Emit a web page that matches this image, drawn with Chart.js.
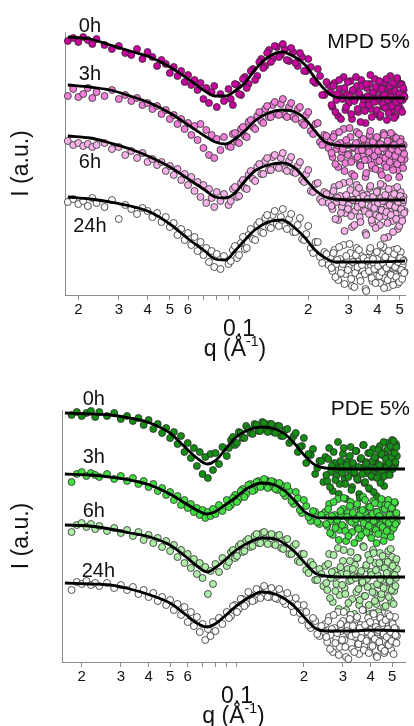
<!DOCTYPE html>
<html>
<head>
<meta charset="utf-8">
<script src="https://cdn.jsdelivr.net/npm/chart.js@4.4.0/dist/chart.umd.min.js"></script>
<style>
  html, body { margin: 0; padding: 0; background: #fff; }
  canvas { display: block; }
</style>
</head>
<body>
<canvas id="mpdChart" width="414" height="363"></canvas>
<canvas id="pdeChart" width="414" height="363"></canvas>
<script>
// scattering vector q (1/A), shared by every measured curve
const q = [0.018,0.019,0.020,0.021,0.022,0.023,0.024,0.026,0.028,0.030,0.032,0.034,0.036,0.038,0.040,0.042,0.044,0.046,0.048,0.050,
  0.052,0.054,0.056,0.058,0.060,0.062,0.064,0.066,0.068,0.070,0.072,0.074,0.076,0.078,0.080,0.083,0.086,0.090,0.094,0.098,
  0.102,0.106,0.110,0.115,0.120,0.125,0.130,0.135,0.140,0.146,0.152,0.158,0.165,0.172,0.180,0.188,0.196,0.205,0.215,0.225,
  0.235,0.245,
  0.250,0.255,0.260,0.265,0.270,0.275,0.280,0.285,0.290,0.295,0.300,0.305,0.310,0.315,0.320,0.325,0.330,0.335,0.340,0.345,
  0.350,0.355,0.360,0.365,0.370,0.375,0.380,0.385,0.390,0.395,0.400,0.405,0.410,0.415,0.420,0.425,0.430,0.435,0.440,0.445,
  0.450,0.455,0.460,0.465,0.470,0.475,0.480,0.485,0.490,0.495,0.500,0.505,0.510,0.515,0.520,0.525];
// second, interleaved set of q where the data are dense
const q2 = [0.092,0.096,0.100,0.104,0.108,0.1125,0.1175,0.1225,0.1275,0.1325,0.1375,0.143,0.149,0.155,0.1615,0.1685,0.176,0.184,0.192,0.200,
  0.210,0.220,0.230,0.240,
  0.2525,0.2575,0.2625,0.2675,0.2725,0.2775,0.2825,0.2875,0.2925,0.2975,0.3025,0.3075,0.3125,0.3175,0.3225,0.3275,0.3325,0.3375,0.3425,0.3475,
  0.3525,0.3575,0.3625,0.3675,0.3725,0.3775,0.3825,0.3875,0.3925,0.3975,0.4025,0.4075,0.4125,0.4175,0.4225,0.4275,0.4325,0.4375,0.4425,0.4475,
  0.4525,0.4575,0.4625,0.4675,0.4725,0.4775,0.4825,0.4875,0.4925,0.4975,0.5025,0.5075,0.5125,0.5175,0.5225];

// MPD 5% - intensity (offset, a.u.)
const mpd0h = [254,257,253,258,255,251,256,250,246,249,242,240,246,236,243,238,229,235,231,222,
  228,219,224,213,220,210,215,205,212,196,207,192,203,209,188,201,194,206,190,210,
  200,218,211,226,219,236,229,245,236,248,240,246,234,243,229,238,224,228,212,219,200,210,
  203,188,212,195,179,206,199,218,185,201,192,214,176,204,196,209,183,200,215,190,
  197,172,207,193,211,186,202,198,216,181,205,194,178,210,199,188,213,201,175,207,
  192,219,184,203,196,208,179,199,214,190,201,186,211,195,205,198];
const mpd0hB = [196,211,201,216,207,224,215,233,227,242,233,249,238,251,235,247,232,242,224,236,214,226,200,213,
  190,209,183,201,215,176,196,207,188,213,199,181,205,194,218,186,202,173,209,196,
  184,211,199,190,220,178,203,193,208,185,197,214,180,206,191,200,187,216,195,182,
  209,198,189,212,177,204,193,217,186,201,196,210,183,207,199];
const mpd3h = [199,206,198,201,207,197,203,199,205,196,200,194,197,190,192,186,189,181,185,176,
  180,171,176,166,172,160,169,155,171,147,165,140,160,137,156,145,158,149,161,153,
  166,159,173,168,179,174,186,178,190,181,191,180,188,178,186,172,180,164,171,153,160,147,
  155,138,161,146,128,152,143,166,132,150,141,158,121,147,136,163,144,130,155,139,
  149,118,153,135,160,142,127,151,145,133,157,140,124,148,137,162,131,150,143,117,
  154,138,146,129,159,141,134,152,125,147,139,156,132,144,150,136];
const mpd3hB = [148,162,152,168,158,175,166,183,172,189,178,193,180,196,178,192,176,188,170,183,161,172,150,159,
  142,158,131,150,163,137,146,124,155,140,167,133,148,119,152,138,161,129,145,156,
  135,122,149,143,164,130,153,139,126,158,144,134,151,120,147,160,137,128,154,141,
  133,162,146,125,150,139,157,131,144,118,153,136,148,127,141];
const mpd6h = [154,150,152,149,151,148,150,152,146,148,140,144,137,142,133,136,130,133,124,129,
  120,126,115,121,110,118,104,113,98,110,92,106,97,88,103,94,101,90,106,98,
  112,107,120,116,128,121,134,125,138,128,137,126,134,123,129,115,121,104,111,96,103,92,
  101,86,108,93,75,99,88,112,82,97,90,105,68,95,84,110,91,78,102,87,
  96,62,100,83,107,89,72,98,92,80,104,86,70,97,85,109,79,94,88,58,
  101,83,93,74,106,89,81,99,66,95,87,103,77,92,98,84];
const mpd6hB = [94,108,99,115,106,124,114,131,121,137,125,140,127,142,124,138,122,133,113,125,103,112,93,101,
  89,104,76,97,110,82,93,64,100,86,113,79,95,70,102,88,107,73,91,99,
  84,60,96,81,109,75,98,87,67,103,92,78,111,85,94,57,100,83,72,106,
  90,80,97,63,101,88,76,108,93,69,99,86,74,95,82];
const mpd24h = [93,96,91,94,89,97,92,88,95,76,90,86,81,87,84,78,82,73,78,68,
  72,60,66,55,62,50,58,44,53,40,47,33,44,28,41,26,39,31,45,37,
  52,46,60,56,70,63,77,68,80,71,78,69,76,63,70,56,61,47,53,38,43,30,
  38,24,45,31,15,36,27,50,21,34,28,42,9,33,22,47,30,18,39,25,
  35,6,37,23,44,29,14,32,40,19,36,26,12,41,24,48,17,31,27,8,
  38,21,34,16,45,28,20,37,11,33,26,43,19,30,35,23];
const mpd24hB = [34,49,40,58,47,66,55,73,62,80,67,84,69,86,66,81,63,77,55,69,42,53,32,41,
  27,42,18,35,48,22,31,11,39,25,51,16,33,8,40,28,45,14,30,37,
  21,4,34,24,47,17,36,26,12,43,29,19,50,23,32,7,38,27,15,44,
  31,20,36,10,41,28,18,46,33,13,37,25,16,34,22];

// PDE 5% - intensity (offset, a.u.)
const pde0h = [247,250,246,249,251,245,250,246,249,243,246,241,244,237,242,233,238,229,234,224,
  230,218,226,210,219,204,214,196,210,188,205,184,208,192,209,198,215,206,222,217,
  230,224,236,229,238,231,240,233,238,230,236,226,232,219,226,210,216,199,207,188,201,180,
  205,181,214,190,171,199,186,220,178,196,208,184,163,201,192,215,175,197,188,211,
  182,168,203,194,217,179,200,189,209,173,196,185,213,191,204,166,198,187,216,182,
  207,195,176,210,199,219,188,205,214,193,222,201,209,197,218,206];
const pde0hB = [214,225,219,229,224,233,228,237,231,239,230,238,229,236,226,233,222,229,215,224,208,213,194,201,
  187,203,175,196,210,182,193,168,201,189,214,178,197,185,206,172,199,190,211,183,
  195,164,204,188,217,180,198,192,174,209,186,201,170,205,194,184,212,197,179,208,
  191,220,186,203,195,213,199,187,216,205,193,221,209,200,215];
const pde3h = [180,188,190,186,189,187,185,188,183,186,181,184,178,181,175,178,171,174,167,170,
  162,166,157,162,154,158,150,154,147,152,144,150,146,153,148,157,151,162,157,167,
  163,173,168,178,172,181,176,182,175,180,172,177,166,171,158,164,149,156,141,150,138,148,
  150,136,158,141,127,147,139,163,132,146,153,135,121,149,142,160,130,145,138,156,
  134,124,151,143,165,131,148,137,155,128,146,140,161,133,150,119,144,138,158,129,
  152,141,126,157,145,135,162,139,148,131,154,143,136,159,147,140];
const pde3hB = [155,164,160,171,165,177,171,180,175,183,174,181,173,179,169,176,161,170,152,162,145,151,140,147,
  138,153,129,146,160,134,142,122,151,137,164,131,145,126,156,140,149,119,143,158,
  133,147,127,152,139,162,130,144,136,155,124,148,141,159,132,150,128,146,137,163,
  135,121,153,142,131,157,139,147,125,154,143,134,160,138,149];
const pde6h = [130,137,139,135,138,133,136,131,134,129,132,126,130,122,127,119,124,115,121,111,
  117,105,112,99,108,94,103,88,99,84,95,68,91,78,98,90,104,96,110,104,
  116,110,121,115,126,119,129,120,127,118,126,114,122,108,116,101,108,92,100,82,93,76,
  96,72,108,84,60,91,78,114,67,88,101,74,52,93,81,110,63,86,97,70,
  104,57,89,79,116,66,94,83,107,48,90,75,112,69,99,58,87,77,109,64,
  95,82,55,103,86,73,111,80,92,61,105,88,71,99,84,93];
const pde6hB = [100,112,106,118,111,123,116,128,119,130,118,128,117,127,113,123,108,118,100,108,89,97,82,88,
  79,98,64,90,107,71,86,53,95,77,112,68,88,59,101,82,93,48,84,104,
  73,62,91,80,115,66,97,75,57,102,87,70,109,61,92,78,50,99,83,68,
  106,74,94,56,89,100,65,81,113,72,96,58,87,76,103];
const pde24h = [72,80,78,81,77,79,76,79,74,77,72,75,68,72,65,69,61,65,57,62,
  52,58,47,55,40,50,36,45,30,38,22,33,26,40,31,44,38,50,46,57,
  53,63,58,67,62,72,66,73,65,71,63,68,58,64,50,57,42,50,34,41,26,36,
  38,20,45,27,10,34,24,50,15,31,41,22,5,36,28,47,13,33,25,43,
  18,8,37,29,52,16,35,23,44,11,32,26,49,19,39,6,30,21,46,14,
  36,27,9,42,31,17,48,24,34,12,40,29,20,45,33,26];
const pde24hB = [44,56,50,63,56,70,61,73,64,76,65,74,64,73,61,69,56,64,49,57,37,44,28,36,
  25,41,13,33,47,19,29,7,38,22,50,15,31,3,43,26,36,10,28,45,
  18,34,24,52,12,37,21,30,9,40,27,16,48,23,35,5,32,20,44,14,
  39,28,11,42,25,33,17,46,30,21,38,8,34,27,19];

// model fits
const mpdFitQ = [0.018,0.0225,0.0275,0.0336,0.041,0.050,0.061,0.071,0.0787,0.087,0.096,0.106,0.117,0.134,0.154,0.175,0.194,0.214,0.237,0.262,0.304,0.390,0.527];
const mpdFit0h = [258,256,250,244,238,228,215,204,199,199,204,212,225,238,243,238,230,217,205,198,197,197,197];
const mpdFit3h = [210,208,205,199,192,182,169,159,153,151,156,164,174,182,185,183,176,164,153,150,149,149,149];
const mpdFit6h = [159,157,152,146,138,128,115,105,98,97,102,114,124,130,132,127,116,105,98,96,95,95,95];
const mpdFit24h = [98,96,93,89,83,71,55,44,36,35,44,55,65,73,75,67,57,45,37,33,33,33,34];

const pdeFitQ = [0.0168,0.0218,0.0268,0.033,0.0406,0.0499,0.0583,0.066,0.0733,0.0796,0.0883,0.098,0.112,0.1296,0.1483,0.1645,0.1825,0.2024,0.2246,0.2491,0.3228,0.4183,0.5711];
const pdeFit0h = [249,248,247,244,239,229,215,204,198,201,212,224,232,235,233,228,218,206,197,194,193,193,193];
const pdeFit3h = [188,187,185,182,177,168,159,152,148,150,157,164,174,179,177,171,161,150,145,144,144,144,144];
const pdeFit6h = [137,136,133,129,125,117,106,96,90,94,102,111,119,124,123,118,110,99,89,86,85,85,85];
const pdeFit24h = [79,78,77,73,67,59,48,39,35,38,46,55,64,70,68,63,55,44,34,31,31,32,31];

const times = ['0h', '3h', '6h', '24h'];
const tickValues = [0.02, 0.03, 0.04, 0.05, 0.06, 0.07, 0.08, 0.09, 0.1, 0.2, 0.3, 0.4, 0.5];
const tickLabels = ['2', '3', '4', '5', '6', '', '', '', '0.1', '2', '3', '4', '5'];

const FONT = '"Liberation Sans", Arial, Helvetica, sans-serif';
const AXIS_GREY = '#8c8c8c';

function labelPlugin(name, spots) {
    return {
        id: 'curveLabels',
        afterDraw(chart) {
            const {ctx, chartArea, scales: {x, y}} = chart;
            ctx.save();
            ctx.fillStyle = '#111';
            ctx.textBaseline = 'alphabetic';
            ctx.textAlign = 'left';
            ctx.font = '20px ' + FONT;
            spots.forEach((s, i) => {
                ctx.fillText(times[i], x.getPixelForValue(s[0]), y.getPixelForValue(s[1]));
            });
            ctx.textAlign = 'right';
            ctx.font = '21px ' + FONT;
            ctx.fillText(name, chartArea.right + 5, y.getPixelForValue(247));

            // x title with a real superscript
            const base = chartArea.bottom + 61;
            ctx.textAlign = 'left';
            ctx.font = '23px ' + FONT;
            const a = 'q (Å';
            const wa = ctx.measureText(a).width;
            ctx.font = '14px ' + FONT;
            const sup = '-1';
            const ws = ctx.measureText(sup).width;
            ctx.font = '23px ' + FONT;
            const wc = ctx.measureText(')').width;
            let cx = (chartArea.left + chartArea.right) / 2 - (wa + ws + wc) / 2;
            ctx.fillText(a, cx, base);
            cx += wa;
            ctx.font = '14px ' + FONT;
            ctx.fillText(sup, cx, base - 10);
            cx += ws;
            ctx.font = '23px ' + FONT;
            ctx.fillText(')', cx, base);
            ctx.restore();
        }
    };
}

function buildChart(id, p) {
    const datasets = [];
    p.fits.forEach((f) => {
        datasets.push({
            data: p.fitQ.map((v, i) => ({x: v, y: f[i]})),
            showLine: true,
            pointRadius: 0,
            borderColor: '#000',
            borderWidth: 2.8,
            cubicInterpolationMode: 'monotone',
            order: 0,
            clip: false
        });
    });
    p.series.forEach((s, k) => {
        const pts = q.map((v, i) => ({x: v, y: s[0][i]}))
            .concat(q2.map((v, i) => ({x: v, y: s[1][i]})));
        datasets.push({
            data: pts,
            showLine: false,
            pointRadius: 3.5,
            pointBackgroundColor: p.colors[k],
            pointBorderColor: '#2b2b2b',
            pointBorderWidth: 0.8,
            order: 5 - k,
            clip: false
        });
    });

    return new Chart(document.getElementById(id), {
        type: 'scatter',
        data: {datasets: datasets},
        plugins: [labelPlugin(p.name, p.spots)],
        options: {
            responsive: false,
            animation: false,
            devicePixelRatio: 1,
            layout: {padding: {top: p.padTop, right: 9, left: 0, bottom: 0}},
            plugins: {
                legend: {display: false},
                tooltip: {enabled: false}
            },
            scales: {
                x: {
                    type: 'logarithmic',
                    min: p.xMin,
                    max: p.xMax,
                    afterBuildTicks: (s) => { s.ticks = tickValues.map(v => ({value: v})); },
                    afterFit: (s) => { s.height = p.xHeight; },
                    grid: {drawOnChartArea: false, drawTicks: true, tickLength: 5, color: AXIS_GREY},
                    border: {display: true, color: AXIS_GREY, width: 1},
                    ticks: {
                        autoSkip: false,
                        maxRotation: 0,
                        padding: 1,
                        color: '#111',
                        font: (c) => (c.tick && c.tick.value === 0.1)
                            ? {size: 23, family: FONT, lineHeight: 0.82}
                            : {size: 15, family: FONT},
                        callback: (v, i) => tickLabels[i] === '0.1' ? ['', '0.1'] : tickLabels[i]
                    }
                },
                y: {
                    min: 0,
                    max: p.yMax,
                    afterFit: (s) => { s.width = p.yWidth; },
                    ticks: {display: false},
                    grid: {display: false},
                    border: {display: true, color: AXIS_GREY, width: 1},
                    title: {display: true, text: 'I (a.u.)', color: '#111', font: {size: 23, family: FONT}, padding: 8}
                }
            }
        }
    });
}

buildChart('mpdChart', {
    name: 'MPD 5%',
    series: [[mpd0h, mpd0hB], [mpd3h, mpd3hB], [mpd6h, mpd6hB], [mpd24h, mpd24hB]],
    fits: [mpdFit0h, mpdFit3h, mpdFit6h, mpdFit24h],
    fitQ: mpdFitQ,
    colors: ['#c8069e', '#f27fd8', '#f8b4ea', '#ffffff'],
    spots: [[0.0201, 263], [0.0201, 215], [0.0201, 127], [0.019, 63]],
    xMin: 0.0175, xMax: 0.527,
    yMax: 263, padTop: 32, xHeight: 68, yWidth: 65
});

buildChart('pdeChart', {
    name: 'PDE 5%',
    series: [[pde0h, pde0hB], [pde3h, pde3hB], [pde6h, pde6hB], [pde24h, pde24hB]],
    fits: [pdeFit0h, pdeFit3h, pdeFit6h, pdeFit24h],
    fitQ: pdeFitQ,
    colors: ['#148e14', '#42de42', '#aeeea8', '#ffffff'],
    spots: [[0.0202, 257], [0.0202, 199], [0.0202, 145], [0.0200, 85]],
    xMin: 0.0163, xMax: 0.571,
    yMax: 252, padTop: 47, xHeight: 64, yWidth: 62
});
</script>
</body>
</html>
